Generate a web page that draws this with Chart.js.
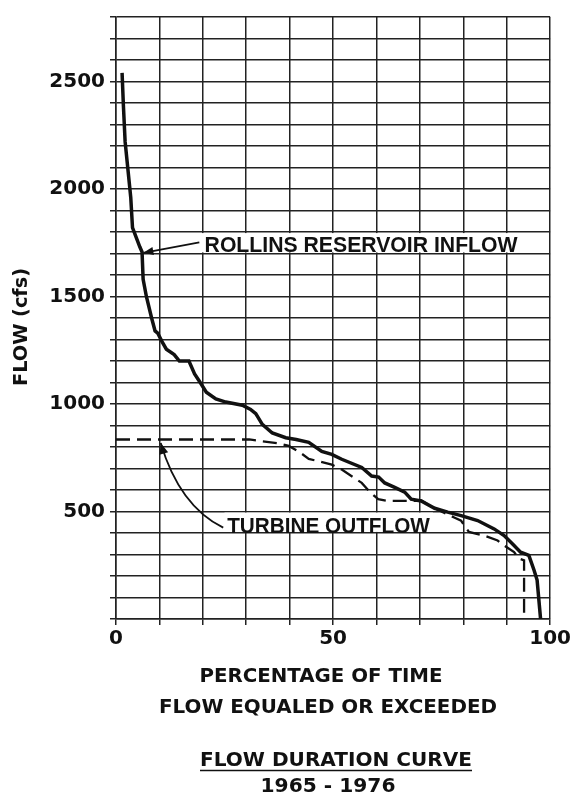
<!DOCTYPE html>
<html>
<head>
<meta charset="utf-8">
<script src="https://cdn.jsdelivr.net/npm/chart.js@4.4.1/dist/chart.umd.min.js"></script>
<style>
  html, body { margin: 0; padding: 0; background: #fff; }
  canvas { display: block; }
</style>
</head>
<body>
<canvas id="flow-chart" width="573" height="798"></canvas>
<script>
// Rollins reservoir inflow (solid line) - % of time vs flow (cfs)
const inflowPct = [1.4, 1.7, 2.1, 2.8, 3.4, 3.8, 5.5, 6.0, 6.25, 7.0, 8.2, 9.0, 9.6, 10.6, 11.6, 13.4, 14.6, 16.8, 18.1, 19.4, 20.8, 23.0, 25.3, 29.1, 31.0, 32.2, 33.7, 36.0, 39.1, 41.5, 44.4, 47.4, 49.7, 52.0, 56.6, 58.9, 60.5, 61.9, 64.2, 66.5, 68.0, 70.3, 73.4, 76.4, 79.5, 83.3, 87.1, 89.4, 91.3, 93.2, 95.1, 96.3, 97.0, 97.8];
const inflowCfs = [2540, 2390, 2220, 2080, 1960, 1820, 1730, 1707, 1580, 1500, 1400, 1340, 1330, 1290, 1255, 1230, 1200, 1200, 1140, 1100, 1055, 1024, 1009, 994, 975, 955, 905, 865, 843, 835, 822, 779, 766, 743, 705, 665, 660, 633, 612, 590, 557, 549, 515, 497, 481, 458, 419, 388, 350, 311, 296, 227, 181, 0];

// Turbine outflow (dashed line)
const outflowPct = [0, 30.7, 33.7, 37.5, 39.8, 42.1, 44.4, 49.7, 52.0, 54.3, 56.6, 58.5, 60.4, 62.7, 67.3, 70.3, 73.4, 77.9, 79.5, 81.3, 84.8, 87.9, 89.4, 91.7, 92.8, 94.0, 94.0];
const outflowCfs = [835, 835, 826, 817, 805, 779, 745, 718, 695, 664, 633, 590, 557, 549, 549, 551, 515, 472, 457, 405, 388, 365, 342, 311, 281, 273, 0];

// Axis ticks that carry a label
const xTickLabels = [0, 50, 100];
const yTickLabels = [500, 1000, 1500, 2000, 2500];

const INK = '#111';
const GRID = '#222';

// Draw text squeezed/stretched to a given width (lettering in the scan is condensed)
function drawFitText(ctx, text, x, y, font, width, align) {
  ctx.save();
  ctx.font = font;
  const w = ctx.measureText(text).width;
  ctx.translate(x, y);
  ctx.scale(width / w, 1);
  ctx.textAlign = align || 'left';
  ctx.textBaseline = 'alphabetic';
  ctx.fillStyle = INK;
  ctx.fillText(text, 0, 0);
  ctx.restore();
}

function arrowHead(ctx, fromX, fromY, toX, toY, len, half) {
  const ang = Math.atan2(toY - fromY, toX - fromX);
  ctx.beginPath();
  ctx.moveTo(toX, toY);
  ctx.lineTo(toX - len * Math.cos(ang) + half * Math.sin(ang), toY - len * Math.sin(ang) - half * Math.cos(ang));
  ctx.lineTo(toX - len * Math.cos(ang) - half * Math.sin(ang), toY - len * Math.sin(ang) + half * Math.cos(ang));
  ctx.closePath();
  ctx.fill();
}

const labelFont = 'bold 22px "Liberation Sans"';
const captionFont = 'bold 20px "DejaVu Sans"';

const annotations = {
  id: 'annotations',
  beforeDatasetsDraw(chart) {
    // white patches behind the curve labels, the grid stops there in the original
    const ctx = chart.ctx;
    const xs = chart.scales.x, ys = chart.scales.y;
    ctx.save();
    ctx.fillStyle = '#fff';
    ctx.fillRect(xs.getPixelForValue(19.8), ys.getPixelForValue(1795), xs.getPixelForValue(93.3) - xs.getPixelForValue(19.8), ys.getPixelForValue(1705) - ys.getPixelForValue(1795));
    ctx.fillRect(xs.getPixelForValue(25.0), ys.getPixelForValue(495), xs.getPixelForValue(73.0) - xs.getPixelForValue(25.0), ys.getPixelForValue(405) - ys.getPixelForValue(495));
    ctx.restore();
  },
  afterDatasetsDraw(chart) {
    const ctx = chart.ctx;
    const xs = chart.scales.x, ys = chart.scales.y;
    const px = v => xs.getPixelForValue(v);
    const py = v => ys.getPixelForValue(v);

    // curve labels
    drawFitText(ctx, 'ROLLINS RESERVOIR INFLOW', px(20.4), py(1709), labelFont, px(92.5) - px(20.4), 'left');
    drawFitText(ctx, 'TURBINE OUTFLOW', px(25.6), py(402), labelFont, px(72.3) - px(25.6), 'left');

    ctx.save();
    ctx.strokeStyle = INK;
    ctx.fillStyle = INK;
    ctx.lineWidth = 1.8;

    // inflow leader
    ctx.beginPath();
    ctx.moveTo(px(19.2), py(1752));
    ctx.lineTo(px(6.3), py(1703));
    ctx.stroke();
    arrowHead(ctx, px(19.2), py(1752), px(6.3), py(1703), 10, 4);

    // outflow leader (curved)
    ctx.beginPath();
    ctx.moveTo(px(24.7), py(425));
    ctx.quadraticCurveTo(px(14.6), py(526), px(10.3), py(819));
    ctx.stroke();
    arrowHead(ctx, px(14.6), py(526), px(10.3), py(819), 11, 4.5);
    ctx.restore();

    // axis titles and caption
    ctx.save();
    ctx.translate(20, 327);
    ctx.rotate(-Math.PI / 2);
    drawFitText(ctx, 'FLOW (cfs)', 0, 7, 'bold 19px "DejaVu Sans"', 118, 'center');
    ctx.restore();

    drawFitText(ctx, 'PERCENTAGE OF TIME', 321, 682, captionFont, 243, 'center');
    drawFitText(ctx, 'FLOW EQUALED OR EXCEEDED', 328, 713, captionFont, 338, 'center');
    drawFitText(ctx, 'FLOW DURATION CURVE', 336, 766, captionFont, 272, 'center');
    drawFitText(ctx, '1965 - 1976', 328, 792, captionFont, 135, 'center');

    ctx.save();
    ctx.strokeStyle = INK;
    ctx.lineWidth = 1.6;
    ctx.beginPath();
    ctx.moveTo(200, 770.5);
    ctx.lineTo(472, 770.5);
    ctx.stroke();
    ctx.restore();
  }
};

const tickFont = { family: 'DejaVu Sans', weight: 'bold', size: 20 };

new Chart(document.getElementById('flow-chart'), {
  type: 'line',
  data: {
    datasets: [
      {
        label: 'Rollins Reservoir Inflow',
        data: inflowPct.map((p, i) => ({ x: p, y: inflowCfs[i] })),
        borderColor: INK,
        borderWidth: 3.5,
        pointRadius: 0,
        tension: 0,
        fill: false
      },
      {
        label: 'Turbine Outflow',
        data: outflowPct.map((p, i) => ({ x: p, y: outflowCfs[i] })),
        borderColor: INK,
        borderWidth: 2.3,
        borderDash: [14, 7],
        pointRadius: 0,
        tension: 0,
        fill: false
      }
    ]
  },
  options: {
    responsive: false,
    animation: false,
    layout: { padding: { left: 0, right: 20, top: 11, bottom: 0 } },
    plugins: {
      legend: { display: false },
      tooltip: { enabled: false }
    },
    scales: {
      x: {
        type: 'linear',
        min: 0,
        max: 100,
        ticks: {
          stepSize: 10,
          autoSkip: false,
          maxRotation: 0,
          padding: 2,
          color: INK,
          font: tickFont,
          callback: v => xTickLabels.includes(v) ? String(v) : ''
        },
        grid: { color: GRID, lineWidth: 1.5, tickLength: 6, tickColor: GRID },
        border: { color: GRID, width: 1.5 },
        afterFit: scale => { scale.height = 179; }
      },
      y: {
        min: 0,
        max: 2800,
        ticks: {
          stepSize: 100,
          autoSkip: false,
          padding: 5,
          color: INK,
          font: tickFont,
          callback: v => yTickLabels.includes(v) ? String(v) : ''
        },
        grid: { color: GRID, lineWidth: 1.5, tickLength: 6, tickColor: GRID },
        border: { color: GRID, width: 1.5 },
        afterFit: scale => { scale.width = 116; }
      }
    }
  },
  plugins: [annotations]
});
</script>
</body>
</html>
